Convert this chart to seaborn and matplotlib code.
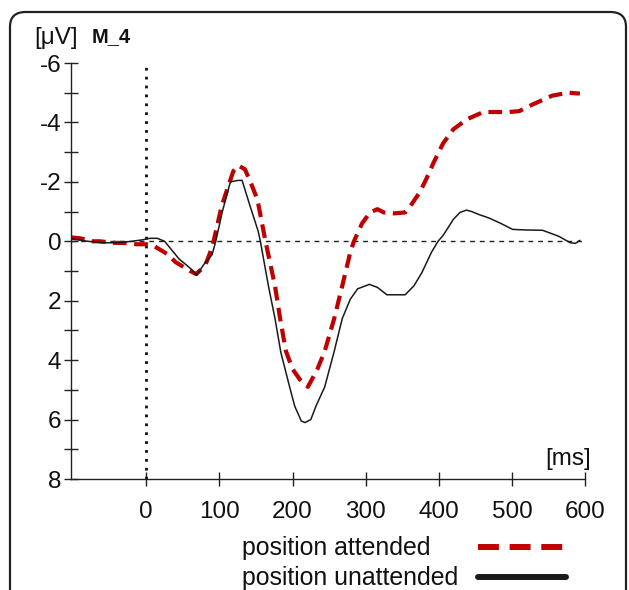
import matplotlib
matplotlib.use("Agg")
import matplotlib.pyplot as plt
import seaborn as sns
from matplotlib.lines import Line2D
from matplotlib.patches import FancyBboxPatch
from matplotlib.ticker import MultipleLocator

# ERP M_4 - lectures sur la figure
t_att = [-103, -90, -75, -64, -45, -27, -14, 0, 10, 18, 30, 40, 50, 60, 68, 75, 81, 87, 92,
         103, 112, 119, 126, 135, 144, 152, 163, 176, 183, 191, 200, 210, 221, 234, 244,
         257, 268, 279, 284, 295, 306, 316, 325, 339, 354, 361, 374, 383, 393, 406, 420,
         438, 461, 480, 496, 510, 528, 555, 577, 593]
v_att = [-0.13, -0.1, 0.0, 0.0, 0.05, 0.06, 0.1, 0.1, 0.15, 0.27, 0.45, 0.7, 0.85, 1.0, 1.1,
         0.95, 0.78, 0.4, 0.0, -1.18, -1.85, -2.36, -2.55, -2.42, -1.9, -1.4, 0.0, 1.5, 2.6,
         3.7, 4.3, 4.65, 4.9, 4.3, 3.7, 2.6, 1.5, 0.37, 0.0, -0.6, -0.97, -1.08, -0.97,
         -0.94, -0.97, -1.18, -1.65, -2.1, -2.65, -3.3, -3.77, -4.1, -4.35, -4.35, -4.35,
         -4.38, -4.6, -4.9, -5.0, -4.97]

t_unatt = [-103, -80, -60, -40, -20, -5, 5, 15, 25, 35, 45, 55, 62, 69, 78, 85, 90, 95, 104,
           115, 126, 131, 142, 153, 156, 167, 176, 184, 196, 203, 212, 217, 225, 232, 244,
           257, 268, 279, 289, 305, 316, 329, 354, 366, 377, 390, 399, 406, 420, 429, 438,
           445, 455, 469, 485, 501, 520, 542, 564, 580, 587, 593]
v_unatt = [-0.08, 0.0, 0.05, 0.05, 0.0, -0.05, -0.1, -0.1, 0.0, 0.3, 0.6, 0.8, 0.95, 1.15,
           0.8, 0.6, 0.45, 0.0, -1.0, -2.0, -2.05, -2.05, -1.18, -0.34, 0.0, 1.5, 2.6, 3.74,
           4.9, 5.55, 6.05, 6.1, 6.0, 5.55, 4.9, 3.7, 2.6, 1.95, 1.6, 1.45, 1.55, 1.8, 1.8,
           1.5, 1.05, 0.37, 0.0, -0.2, -0.74, -0.97, -1.05, -1.0, -0.9, -0.78, -0.6, -0.4,
           -0.38, -0.37, -0.17, 0.05, 0.07, -0.03]

xticks = [0, 100, 200, 300, 400, 500, 600]
yticks = [-6, -4, -2, 0, 2, 4, 6, 8]
labels = ["position attended", "position unattended"]

sns.set_style("ticks")
plt.rcParams["font.family"] = ["Liberation Sans", "DejaVu Sans"]
plt.rcParams["axes.unicode_minus"] = False

fig = plt.figure(figsize=(6.29, 5.90), dpi=100)
W, H = 629, 590
fs = 17.5

# cadre arrondi
cadre = FancyBboxPatch((10 / W, -0.05), 616 / W, 1.05 - 12 / H,
                       boxstyle="round,pad=0,rounding_size=0.025",
                       transform=fig.transFigure, fill=False, lw=1.6, ec="#222222")
fig.patches.append(cadre)

ax = fig.add_axes([71 / W, 1 - 479 / H, 514 / W, 416 / H])

ax.axhline(0, color="#222222", lw=1.0, ls=(0, (3.5, 3.5)), zorder=1)
ax.axvline(0, color="#111111", lw=2.0, ls=(0, (1, 2.2)), zorder=1, ymax=0.99)

sns.lineplot(x=t_unatt, y=v_unatt, ax=ax, color="#1a1a1a", lw=1.1, zorder=3)
sns.lineplot(x=t_att, y=v_att, ax=ax, color="#c00000", lw=3.0,
             linestyle=(0, (3.3, 1.8)), zorder=2)

ax.set_xlim(-103, 600)
ax.set_ylim(8, -6)
ax.set_xticks(xticks)
ax.set_yticks(yticks)
ax.yaxis.set_minor_locator(MultipleLocator(1))
ax.tick_params(axis="both", which="both", direction="inout", length=10, width=1.0,
               color="#222222", labelsize=fs, labelcolor="#111111")
ax.tick_params(axis="x", pad=11)
ax.tick_params(axis="y", pad=2)
sns.despine(ax=ax)
for s in ["left", "bottom"]:
    ax.spines[s].set_linewidth(1.0)
    ax.spines[s].set_color("#222222")

fig.text(34 / W, 1 - 38 / H, "[μV]", fontsize=fs, va="center", ha="left", color="#111111")
fig.text(92 / W, 1 - 37 / H, "M_4", fontsize=14.5, fontweight="bold", va="center",
         ha="left", color="#111111")
fig.text(591 / W, 1 - 459 / H, "[ms]", fontsize=fs, va="center", ha="right", color="#111111")

# légende (texte à gauche, trait à droite)
styles = [dict(color="#c00000", lw=4.3, ls=(0, (3.5, 1.8))),
          dict(color="#1a1a1a", lw=4.3, ls="-")]
ys = [548, 578]
for lab, st, yy in zip(labels, styles, ys):
    fig.text(242 / W, 1 - yy / H, lab, fontsize=17.9, va="center", ha="left", color="#111111")
    fig.add_artist(Line2D([478 / W, 566 / W], [1 - (yy - 1) / H, 1 - (yy - 1) / H],
                          transform=fig.transFigure, **st))

plt.savefig("out.png", dpi=100)
